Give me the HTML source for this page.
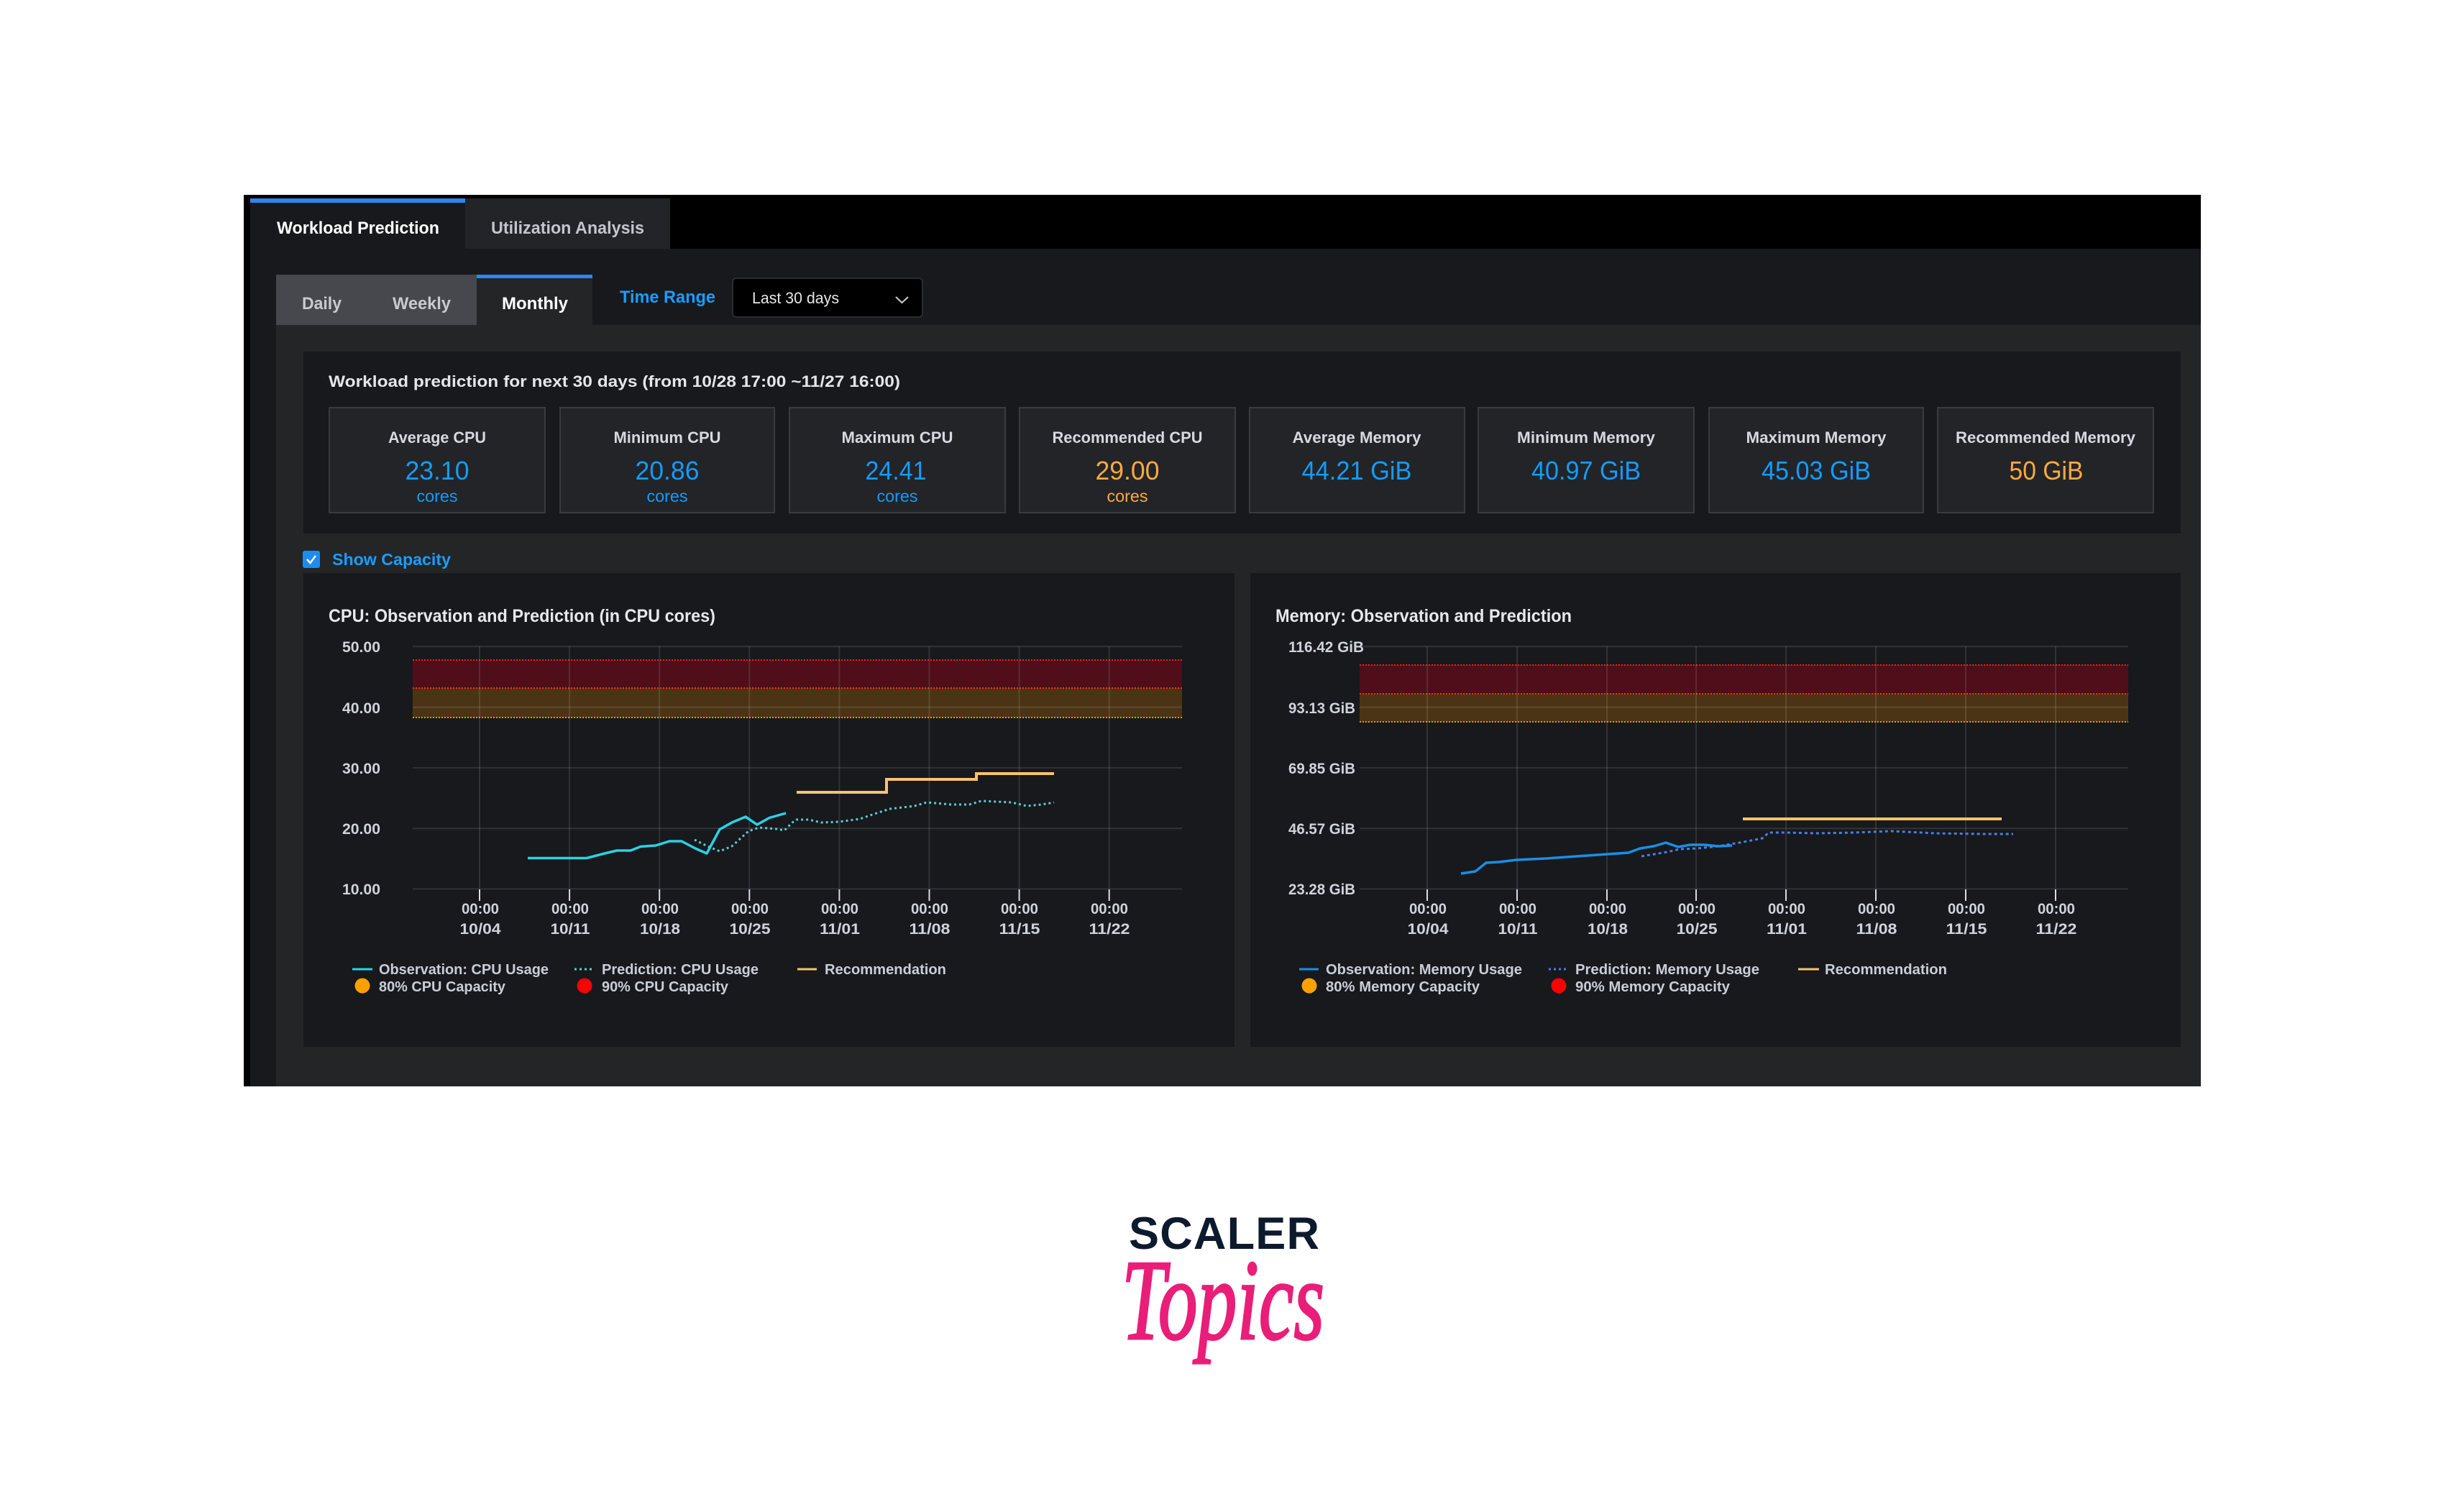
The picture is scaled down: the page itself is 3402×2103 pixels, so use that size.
<!DOCTYPE html>
<html>
<head>
<meta charset="utf-8">
<style>
html,body{margin:0;padding:0;background:#fff;}
body{width:3402px;height:2103px;overflow:hidden;}
svg{display:block;}
</style>
</head>
<body>
<svg width="3402" height="2103" viewBox="0 0 3402 2103" xmlns="http://www.w3.org/2000/svg" font-family="'Liberation Sans', Arial, sans-serif">
<rect width="3402" height="2103" fill="#ffffff"/>

<!-- Frame -->
<rect x="339" y="271" width="2722" height="1240" fill="#000"/>
<rect x="348" y="346" width="2713" height="1165" fill="#17191d"/>
<rect x="384" y="452" width="2677" height="1059" fill="#242527"/>

<!-- Top tabs -->
<rect x="348" y="276" width="299" height="70" fill="#17191d"/>
<rect x="348" y="276" width="299" height="6" fill="#2d86f2"/>
<rect x="647" y="276" width="285" height="70" fill="#232427"/>
<text x="385" y="325" font-size="24" font-weight="bold" fill="#ffffff" textLength="226" lengthAdjust="spacingAndGlyphs">Workload Prediction</text>
<text x="683" y="325" font-size="24" font-weight="bold" fill="#c3c6cb" textLength="213" lengthAdjust="spacingAndGlyphs">Utilization Analysis</text>

<!-- Segmented control -->
<rect x="384" y="382" width="279" height="70" fill="#46484d"/>
<rect x="663" y="382" width="161" height="70" fill="#242527"/>
<rect x="663" y="382" width="161" height="5" fill="#2d86f2"/>
<text x="420" y="430" font-size="24" font-weight="bold" fill="#c8cace" textLength="55" lengthAdjust="spacingAndGlyphs">Daily</text>
<text x="546" y="430" font-size="24" font-weight="bold" fill="#c8cace" textLength="81" lengthAdjust="spacingAndGlyphs">Weekly</text>
<text x="698" y="430" font-size="24" font-weight="bold" fill="#ffffff" textLength="92" lengthAdjust="spacingAndGlyphs">Monthly</text>

<text x="862" y="421" font-size="24" font-weight="bold" fill="#1a9dfc" textLength="133" lengthAdjust="spacingAndGlyphs">Time Range</text>
<rect x="1019" y="387" width="264" height="54" rx="5" fill="#000" stroke="#2b2c30" stroke-width="2"/>
<text x="1046" y="422" font-size="22" fill="#e6e6e6" textLength="121" lengthAdjust="spacingAndGlyphs">Last 30 days</text>
<polyline points="1246,413 1254.5,421 1263,413" fill="none" stroke="#cfcfcf" stroke-width="2"/>

<!-- Summary panel -->
<rect x="422" y="489" width="2611" height="253" fill="#17191d"/>
<text x="457" y="538" font-size="22" font-weight="bold" fill="#e4e6ea" textLength="795" lengthAdjust="spacingAndGlyphs">Workload prediction for next 30 days (from 10/28 17:00 ~11/27 16:00)</text>

<g stroke="#3a3b3f" stroke-width="2" fill="#232427">
<rect x="458" y="567" width="300" height="146"/>
<rect x="779" y="567" width="298" height="146"/>
<rect x="1098" y="567" width="300" height="146"/>
<rect x="1418" y="567" width="300" height="146"/>
<rect x="1738" y="567" width="299" height="146"/>
<rect x="2056" y="567" width="300" height="146"/>
<rect x="2377" y="567" width="298" height="146"/>
<rect x="2695" y="567" width="300" height="146"/>
</g>
<g font-size="22" font-weight="bold" fill="#d6d9de" text-anchor="middle">
<text x="608" y="616" textLength="136" lengthAdjust="spacingAndGlyphs">Average CPU</text>
<text x="928" y="616" textLength="149" lengthAdjust="spacingAndGlyphs">Minimum CPU</text>
<text x="1248" y="616" textLength="155" lengthAdjust="spacingAndGlyphs">Maximum CPU</text>
<text x="1568" y="616" textLength="209" lengthAdjust="spacingAndGlyphs">Recommended CPU</text>
<text x="1887" y="616" textLength="179" lengthAdjust="spacingAndGlyphs">Average Memory</text>
<text x="2206" y="616" textLength="192" lengthAdjust="spacingAndGlyphs">Minimum Memory</text>
<text x="2526" y="616" textLength="195" lengthAdjust="spacingAndGlyphs">Maximum Memory</text>
<text x="2845" y="616" textLength="250" lengthAdjust="spacingAndGlyphs">Recommended Memory</text>
</g>
<g font-size="36" text-anchor="middle" fill="#129cff">
<text x="608" y="667" textLength="89" lengthAdjust="spacingAndGlyphs">23.10</text>
<text x="928" y="667" textLength="89" lengthAdjust="spacingAndGlyphs">20.86</text>
<text x="1246" y="667" textLength="85" lengthAdjust="spacingAndGlyphs">24.41</text>
<text x="1568" y="667" textLength="89" lengthAdjust="spacingAndGlyphs" fill="#ffa940">29.00</text>
<text x="1887" y="667" textLength="153" lengthAdjust="spacingAndGlyphs">44.21 GiB</text>
<text x="2206" y="667" textLength="152" lengthAdjust="spacingAndGlyphs">40.97 GiB</text>
<text x="2526" y="667" textLength="152" lengthAdjust="spacingAndGlyphs">45.03 GiB</text>
<text x="2846" y="667" textLength="103" lengthAdjust="spacingAndGlyphs" fill="#ffa940">50 GiB</text>
</g>
<g font-size="23" text-anchor="middle" fill="#129cff">
<text x="608" y="698" textLength="57" lengthAdjust="spacingAndGlyphs">cores</text>
<text x="928" y="698" textLength="57" lengthAdjust="spacingAndGlyphs">cores</text>
<text x="1248" y="698" textLength="57" lengthAdjust="spacingAndGlyphs">cores</text>
<text x="1568" y="698" textLength="57" lengthAdjust="spacingAndGlyphs" fill="#ffa940">cores</text>
</g>

<!-- Show capacity -->
<rect x="421" y="766" width="24" height="24" rx="3" fill="#1b8cf0"/>
<polyline points="427,778 431.5,783 439,773" fill="none" stroke="#fff" stroke-width="2.5"/>
<text x="462" y="786" font-size="23" font-weight="bold" fill="#1a9dfc" textLength="165" lengthAdjust="spacingAndGlyphs">Show Capacity</text>

<!-- Chart panels -->
<rect x="422" y="797" width="1295" height="659" fill="#17191d"/>
<rect x="1739" y="797" width="1294" height="659" fill="#17191d"/>

<!-- ================= CPU CHART ================= -->
<text x="457" y="865" font-size="25" font-weight="bold" fill="#e6e8ec" textLength="538" lengthAdjust="spacingAndGlyphs">CPU: Observation and Prediction (in CPU cores)</text>

<rect x="574" y="918" width="1070" height="39" fill="#4f0e1a"/>
<rect x="574" y="957" width="1070" height="41" fill="#4b3415"/>
<line x1="574" y1="918" x2="1644" y2="918" stroke="#ff1a1a" stroke-width="2" stroke-dasharray="2 2"/>
<line x1="574" y1="957" x2="1644" y2="957" stroke="#ff2a10" stroke-width="2" stroke-dasharray="2 2"/>
<line x1="574" y1="998" x2="1644" y2="998" stroke="#e89a00" stroke-width="2" stroke-dasharray="2 2"/>

<g stroke="rgba(255,255,255,0.11)" stroke-width="2">
<line x1="574" y1="899.3" x2="1644" y2="899.3"/>
<line x1="574" y1="983.6" x2="1644" y2="983.6"/>
<line x1="574" y1="1067.9" x2="1644" y2="1067.9"/>
<line x1="574" y1="1152.2" x2="1644" y2="1152.2"/>
<line x1="574" y1="1236.4" x2="1644" y2="1236.4"/>
<line x1="667" y1="899" x2="667" y2="1236"/>
<line x1="792.1" y1="899" x2="792.1" y2="1236"/>
<line x1="917.2" y1="899" x2="917.2" y2="1236"/>
<line x1="1042.3" y1="899" x2="1042.3" y2="1236"/>
<line x1="1167.4" y1="899" x2="1167.4" y2="1236"/>
<line x1="1292.5" y1="899" x2="1292.5" y2="1236"/>
<line x1="1417.6" y1="899" x2="1417.6" y2="1236"/>
<line x1="1542.7" y1="899" x2="1542.7" y2="1236"/>
</g>
<g stroke="#d8dbe8" stroke-width="2">
<line x1="667" y1="1237" x2="667" y2="1253"/>
<line x1="792.1" y1="1237" x2="792.1" y2="1253"/>
<line x1="917.2" y1="1237" x2="917.2" y2="1253"/>
<line x1="1042.3" y1="1237" x2="1042.3" y2="1253"/>
<line x1="1167.4" y1="1237" x2="1167.4" y2="1253"/>
<line x1="1292.5" y1="1237" x2="1292.5" y2="1253"/>
<line x1="1417.6" y1="1237" x2="1417.6" y2="1253"/>
<line x1="1542.7" y1="1237" x2="1542.7" y2="1253"/>
</g>

<g font-size="21" font-weight="bold" fill="#cfd3da">
<text x="476" y="907" textLength="53" lengthAdjust="spacingAndGlyphs">50.00</text>
<text x="476" y="992" textLength="53" lengthAdjust="spacingAndGlyphs">40.00</text>
<text x="476" y="1076" textLength="53" lengthAdjust="spacingAndGlyphs">30.00</text>
<text x="476" y="1160" textLength="53" lengthAdjust="spacingAndGlyphs">20.00</text>
<text x="476" y="1244" textLength="53" lengthAdjust="spacingAndGlyphs">10.00</text>
</g>
<g font-size="21" font-weight="bold" fill="#cfd3da" text-anchor="middle">
<text x="668" y="1271" textLength="52" lengthAdjust="spacingAndGlyphs">00:00</text>
<text x="793" y="1271" textLength="52" lengthAdjust="spacingAndGlyphs">00:00</text>
<text x="918" y="1271" textLength="52" lengthAdjust="spacingAndGlyphs">00:00</text>
<text x="1043" y="1271" textLength="52" lengthAdjust="spacingAndGlyphs">00:00</text>
<text x="1168" y="1271" textLength="52" lengthAdjust="spacingAndGlyphs">00:00</text>
<text x="1293" y="1271" textLength="52" lengthAdjust="spacingAndGlyphs">00:00</text>
<text x="1418" y="1271" textLength="52" lengthAdjust="spacingAndGlyphs">00:00</text>
<text x="1543" y="1271" textLength="52" lengthAdjust="spacingAndGlyphs">00:00</text>
<text x="668" y="1299" textLength="57" lengthAdjust="spacingAndGlyphs">10/04</text>
<text x="793" y="1299" textLength="55" lengthAdjust="spacingAndGlyphs">10/11</text>
<text x="918" y="1299" textLength="56" lengthAdjust="spacingAndGlyphs">10/18</text>
<text x="1043" y="1299" textLength="57" lengthAdjust="spacingAndGlyphs">10/25</text>
<text x="1168" y="1299" textLength="56" lengthAdjust="spacingAndGlyphs">11/01</text>
<text x="1293" y="1299" textLength="57" lengthAdjust="spacingAndGlyphs">11/08</text>
<text x="1418" y="1299" textLength="57" lengthAdjust="spacingAndGlyphs">11/15</text>
<text x="1543" y="1299" textLength="57" lengthAdjust="spacingAndGlyphs">11/22</text>
</g>

<path d="M1108,1102 H1233 V1084 H1358 V1076 H1466" fill="none" stroke="#f7c36a" stroke-width="4"/>
<path d="M966,1168 L984,1177 L1001,1184 L1018,1177 L1041,1156 L1056,1151 L1080,1153 L1091,1155 L1102,1144 L1108,1140 L1125,1140 L1142,1144 L1167,1143 L1196,1139 L1222,1130 L1238,1125 L1272,1121 L1289,1116 L1323,1119 L1348,1119 L1365,1114 L1407,1116 L1428,1121 L1449,1119 L1466,1116" fill="none" stroke="#5fc9cc" stroke-width="3" stroke-dasharray="3 4"/>
<path d="M734,1193.5 L816,1193.5 L841,1187 L858,1183 L877,1183 L891,1177.5 L912,1176 L931,1170 L948,1170 L967,1180 L983,1187 L1001,1153.5 L1018,1144 L1037,1136 L1053,1147 L1070,1137.5 L1093,1131" fill="none" stroke="#2ad2e4" stroke-width="3.5" stroke-linejoin="round"/>

<line x1="490" y1="1348" x2="518" y2="1348" stroke="#2ad2e4" stroke-width="3"/>
<line x1="799" y1="1348" x2="824" y2="1348" stroke="#5fc9cc" stroke-width="3" stroke-dasharray="3 4"/>
<line x1="1109" y1="1348" x2="1136" y2="1348" stroke="#f7c36a" stroke-width="3"/>
<circle cx="504" cy="1371" r="10.5" fill="#ffa000"/>
<circle cx="813" cy="1371" r="10.5" fill="#ff0000"/>
<g font-size="20" font-weight="bold" fill="#c9ced6">
<text x="527" y="1355" textLength="236" lengthAdjust="spacingAndGlyphs">Observation: CPU Usage</text>
<text x="837" y="1355" textLength="218" lengthAdjust="spacingAndGlyphs">Prediction: CPU Usage</text>
<text x="1147" y="1355" textLength="169" lengthAdjust="spacingAndGlyphs">Recommendation</text>
<text x="527" y="1379" textLength="176" lengthAdjust="spacingAndGlyphs">80% CPU Capacity</text>
<text x="837" y="1379" textLength="176" lengthAdjust="spacingAndGlyphs">90% CPU Capacity</text>
</g>

<!-- ================= MEMORY CHART ================= -->
<text x="1774" y="865" font-size="25" font-weight="bold" fill="#e6e8ec" textLength="412" lengthAdjust="spacingAndGlyphs">Memory: Observation and Prediction</text>

<rect x="1891" y="925" width="1069" height="40" fill="#4f0e1a"/>
<rect x="1891" y="965" width="1069" height="39" fill="#4b3415"/>
<line x1="1891" y1="925" x2="2960" y2="925" stroke="#ff1a1a" stroke-width="2" stroke-dasharray="2 2"/>
<line x1="1891" y1="965" x2="2960" y2="965" stroke="#ff2a10" stroke-width="2" stroke-dasharray="2 2"/>
<line x1="1891" y1="1004" x2="2960" y2="1004" stroke="#e89a00" stroke-width="2" stroke-dasharray="2 2"/>

<g stroke="rgba(255,255,255,0.11)" stroke-width="2">
<line x1="1891" y1="899.3" x2="2960" y2="899.3"/>
<line x1="1891" y1="983.6" x2="2960" y2="983.6"/>
<line x1="1891" y1="1067.9" x2="2960" y2="1067.9"/>
<line x1="1891" y1="1152.2" x2="2960" y2="1152.2"/>
<line x1="1891" y1="1236.4" x2="2960" y2="1236.4"/>
<line x1="1985" y1="899" x2="1985" y2="1236"/>
<line x1="2110" y1="899" x2="2110" y2="1236"/>
<line x1="2235" y1="899" x2="2235" y2="1236"/>
<line x1="2359" y1="899" x2="2359" y2="1236"/>
<line x1="2484" y1="899" x2="2484" y2="1236"/>
<line x1="2609" y1="899" x2="2609" y2="1236"/>
<line x1="2734" y1="899" x2="2734" y2="1236"/>
<line x1="2859" y1="899" x2="2859" y2="1236"/>
</g>
<g stroke="#d8dbe8" stroke-width="2">
<line x1="1985" y1="1237" x2="1985" y2="1253"/>
<line x1="2110" y1="1237" x2="2110" y2="1253"/>
<line x1="2235" y1="1237" x2="2235" y2="1253"/>
<line x1="2359" y1="1237" x2="2359" y2="1253"/>
<line x1="2484" y1="1237" x2="2484" y2="1253"/>
<line x1="2609" y1="1237" x2="2609" y2="1253"/>
<line x1="2734" y1="1237" x2="2734" y2="1253"/>
<line x1="2859" y1="1237" x2="2859" y2="1253"/>
</g>

<g font-size="21" font-weight="bold" fill="#cfd3da">
<text x="1792" y="907" textLength="105" lengthAdjust="spacingAndGlyphs">116.42 GiB</text>
<text x="1792" y="992" textLength="93" lengthAdjust="spacingAndGlyphs">93.13 GiB</text>
<text x="1792" y="1076" textLength="93" lengthAdjust="spacingAndGlyphs">69.85 GiB</text>
<text x="1792" y="1160" textLength="93" lengthAdjust="spacingAndGlyphs">46.57 GiB</text>
<text x="1792" y="1244" textLength="93" lengthAdjust="spacingAndGlyphs">23.28 GiB</text>
</g>
<g font-size="21" font-weight="bold" fill="#cfd3da" text-anchor="middle">
<text x="1986" y="1271" textLength="52" lengthAdjust="spacingAndGlyphs">00:00</text>
<text x="2111" y="1271" textLength="52" lengthAdjust="spacingAndGlyphs">00:00</text>
<text x="2236" y="1271" textLength="52" lengthAdjust="spacingAndGlyphs">00:00</text>
<text x="2360" y="1271" textLength="52" lengthAdjust="spacingAndGlyphs">00:00</text>
<text x="2485" y="1271" textLength="52" lengthAdjust="spacingAndGlyphs">00:00</text>
<text x="2610" y="1271" textLength="52" lengthAdjust="spacingAndGlyphs">00:00</text>
<text x="2735" y="1271" textLength="52" lengthAdjust="spacingAndGlyphs">00:00</text>
<text x="2860" y="1271" textLength="52" lengthAdjust="spacingAndGlyphs">00:00</text>
<text x="1986" y="1299" textLength="57" lengthAdjust="spacingAndGlyphs">10/04</text>
<text x="2111" y="1299" textLength="55" lengthAdjust="spacingAndGlyphs">10/11</text>
<text x="2236" y="1299" textLength="56" lengthAdjust="spacingAndGlyphs">10/18</text>
<text x="2360" y="1299" textLength="57" lengthAdjust="spacingAndGlyphs">10/25</text>
<text x="2485" y="1299" textLength="56" lengthAdjust="spacingAndGlyphs">11/01</text>
<text x="2610" y="1299" textLength="57" lengthAdjust="spacingAndGlyphs">11/08</text>
<text x="2735" y="1299" textLength="57" lengthAdjust="spacingAndGlyphs">11/15</text>
<text x="2860" y="1299" textLength="57" lengthAdjust="spacingAndGlyphs">11/22</text>
</g>

<path d="M2424,1139 H2784" fill="none" stroke="#f7c36a" stroke-width="4"/>
<path d="M2283,1191 L2319,1185 L2336,1181 L2361,1180 L2390,1177 L2425,1171 L2451,1166 L2460,1158 L2483,1158 L2530,1159 L2580,1158 L2630,1156 L2692,1159 L2759,1160 L2800,1160" fill="none" stroke="#4c7ce2" stroke-width="3" stroke-dasharray="4 4"/>
<path d="M2032,1215 L2052,1212 L2067,1200 L2084,1199 L2109,1196 L2151,1194 L2193,1191 L2222,1189 L2265,1186 L2281,1180 L2300,1177 L2317,1172 L2334,1178 L2351,1175 L2370,1175 L2390,1177 L2409,1176" fill="none" stroke="#1a8fe3" stroke-width="3.5" stroke-linejoin="round"/>

<line x1="1807" y1="1348" x2="1834" y2="1348" stroke="#1a8fe3" stroke-width="3"/>
<line x1="2154" y1="1348" x2="2179" y2="1348" stroke="#4c7ce2" stroke-width="3" stroke-dasharray="3 4"/>
<line x1="2501" y1="1348" x2="2530" y2="1348" stroke="#f7c36a" stroke-width="3"/>
<circle cx="1821" cy="1371" r="10.5" fill="#ffa000"/>
<circle cx="2168" cy="1371" r="10.5" fill="#ff0000"/>
<g font-size="20" font-weight="bold" fill="#c9ced6">
<text x="1844" y="1355" textLength="273" lengthAdjust="spacingAndGlyphs">Observation: Memory Usage</text>
<text x="2191" y="1355" textLength="256" lengthAdjust="spacingAndGlyphs">Prediction: Memory Usage</text>
<text x="2538" y="1355" textLength="170" lengthAdjust="spacingAndGlyphs">Recommendation</text>
<text x="1844" y="1379" textLength="214" lengthAdjust="spacingAndGlyphs">80% Memory Capacity</text>
<text x="2191" y="1379" textLength="215" lengthAdjust="spacingAndGlyphs">90% Memory Capacity</text>
</g>

<!-- Logo -->
<text x="1570" y="1737" font-size="63" font-weight="bold" fill="#0d1a2e" textLength="265" lengthAdjust="spacing">SCALER</text>
<text x="1560" y="1862" font-family="'Liberation Serif', serif" font-style="italic" font-size="160" fill="#e91e78" stroke="#e91e78" stroke-width="3" textLength="282" lengthAdjust="spacingAndGlyphs">Topics</text>
</svg>
</body>
</html>
